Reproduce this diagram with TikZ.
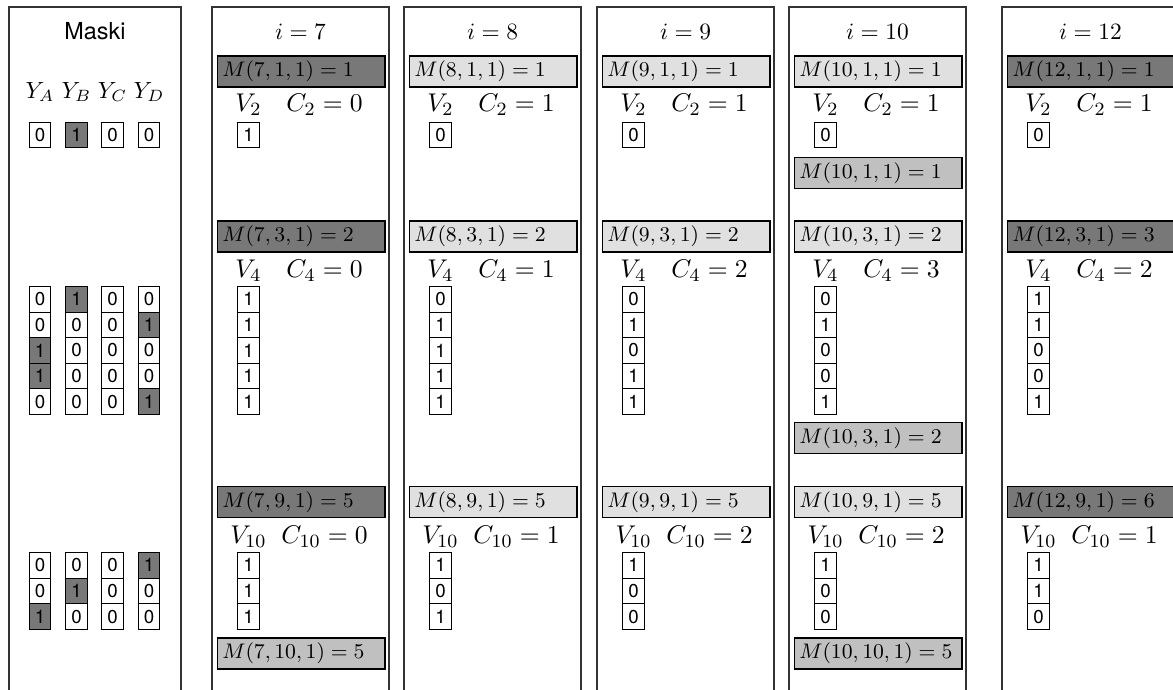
\documentclass[tikz,border=0pt]{standalone}
\usepackage{fontspec}
\setsansfont{TeX Gyre Heros}
\usetikzlibrary{positioning}
\definecolor{maskdark}{RGB}{120,120,120}
\definecolor{masklight}{RGB}{224,224,224}
\definecolor{maskmid}{RGB}{192,192,192}

\begin{document}
\begin{tikzpicture}[
			x=0.4273pt, y=-0.4273pt,
			panel/.style={draw=black!80, line width=0.6pt},
			head/.style={font=\normalsize},
			cell/.style={rectangle, draw, line width=0.5pt, minimum width=9.2pt, minimum height=10.94pt, inner sep=0pt, outer sep=0pt, font=\sffamily\footnotesize},
			hot/.style={cell, fill=maskdark},
			mbox/.style={rectangle, draw, line width=0.6pt, anchor=west, minimum height=13.2pt, text width=67.4pt, inner xsep=2pt, inner ysep=0pt, align=left, font=\small},
			mdark/.style={mbox, fill=maskdark},
			mlight/.style={mbox, fill=masklight},
			mmid/.style={mbox, fill=maskmid},
			vlab/.style={font=\fontsize{11}{13}\selectfont, inner sep=0pt}
			]
			
			\useasboundingbox (0,0) rectangle (1173,690);
			\clip (0,0) rectangle (1173,690);
			
			% Panels
			\draw[panel] (9,7) rectangle (181,700);
			\draw[panel] (212,7) rectangle (389,700);
			\draw[panel] (404,7) rectangle (581,700);
			\draw[panel] (597,7) rectangle (774,700);
			\draw[panel] (789,7) rectangle (966,700);
			\draw[panel] (1002,7) rectangle (1179,700);
			
			% Masks
			\node[head, font=\sffamily] (maski) at (95,31) {Maski};
			\node (ya) at (40,92) {$Y_A$};
			\node (yb) at (76.5,92) {$Y_B$};
			\node (yc) at (112.5,92) {$Y_C$};
			\node (yd) at (149,92) {$Y_D$};
			
			\node[cell] (mA0) at (40,135) {0};
			\node[hot] (mB0) at (76.5,135) {1};
			\node[cell] (mC0) at (112.5,135) {0};
			\node[cell] (mD0) at (149,135) {0};
			
			\node[cell] (mA1) at (40,299.3) {0};
			\node[cell] (mA2) at (40,324.9) {0};
			\node[hot] (mA3) at (40,350.5) {1};
			\node[hot] (mA4) at (40,376.1) {1};
			\node[cell] (mA5) at (40,401.7) {0};
			\node[hot] (mB1) at (76.5,299.3) {1};
			\node[cell] (mB2) at (76.5,324.9) {0};
			\node[cell] (mB3) at (76.5,350.5) {0};
			\node[cell] (mB4) at (76.5,376.1) {0};
			\node[cell] (mB5) at (76.5,401.7) {0};
			\node[cell] (mC1) at (112.5,299.3) {0};
			\node[cell] (mC2) at (112.5,324.9) {0};
			\node[cell] (mC3) at (112.5,350.5) {0};
			\node[cell] (mC4) at (112.5,376.1) {0};
			\node[cell] (mC5) at (112.5,401.7) {0};
			\node[cell] (mD1) at (149,299.3) {0};
			\node[hot] (mD2) at (149,324.9) {1};
			\node[cell] (mD3) at (149,350.5) {0};
			\node[cell] (mD4) at (149,376.1) {0};
			\node[hot] (mD5) at (149,401.7) {1};
			
			\node[cell] (mA6) at (40,565.3) {0};
			\node[cell] (mA7) at (40,590.9) {0};
			\node[hot] (mA8) at (40,616.5) {1};
			\node[cell] (mB6) at (76.5,565.3) {0};
			\node[hot] (mB7) at (76.5,590.9) {1};
			\node[cell] (mB8) at (76.5,616.5) {0};
			\node[cell] (mC6) at (112.5,565.3) {0};
			\node[cell] (mC7) at (112.5,590.9) {0};
			\node[cell] (mC8) at (112.5,616.5) {0};
			\node[hot] (mD6) at (149,565.3) {1};
			\node[cell] (mD7) at (149,590.9) {0};
			\node[cell] (mD8) at (149,616.5) {0};
			
			% i = 7
			\node[head] (t7) at (300.5,32) {$i=7$};
			\node[mdark] (m7a) at (217,71.5) {$M(7,1,1)=1$};
			\node[vlab] (v7a) at (248.5,105) {$V_2$};
			\node[vlab] (c7a) at (324.5,105) {$C_2=0$};
			\node[cell] (p7-0) at (248.5,135) {1};
			\node[mdark] (m7b) at (217,236.5) {$M(7,3,1)=2$};
			\node[vlab] (v7b) at (248.5,271) {$V_4$};
			\node[vlab] (c7b) at (324.5,271) {$C_4=0$};
			\node[cell] (p7-1) at (248.5,299.3) {1};
			\node[cell] (p7-2) at (248.5,324.9) {1};
			\node[cell] (p7-3) at (248.5,350.5) {1};
			\node[cell] (p7-4) at (248.5,376.1) {1};
			\node[cell] (p7-5) at (248.5,401.7) {1};
			\node[mdark] (m7c) at (217,502) {$M(7,9,1)=5$};
			\node[vlab] (v7c) at (248.5,537) {$V_{10}$};
			\node[vlab] (c7c) at (324.5,537) {$C_{10}=0$};
			\node[cell] (p7-6) at (248.5,565.3) {1};
			\node[cell] (p7-7) at (248.5,590.9) {1};
			\node[cell] (p7-8) at (248.5,616.5) {1};
			\node[mmid] (m7d) at (217,653.5) {$M(7,10,1)=5$};
			
			% i = 8
			\node[head] (t8) at (492.5,32) {$i=8$};
			\node[mlight] (m8a) at (409,71.5) {$M(8,1,1)=1$};
			\node[vlab] (v8a) at (440.5,105) {$V_2$};
			\node[vlab] (c8a) at (516.5,105) {$C_2=1$};
			\node[cell] (p8-0) at (440.5,135) {0};
			\node[mlight] (m8b) at (409,236.5) {$M(8,3,1)=2$};
			\node[vlab] (v8b) at (440.5,271) {$V_4$};
			\node[vlab] (c8b) at (516.5,271) {$C_4=1$};
			\node[cell] (p8-1) at (440.5,299.3) {0};
			\node[cell] (p8-2) at (440.5,324.9) {1};
			\node[cell] (p8-3) at (440.5,350.5) {1};
			\node[cell] (p8-4) at (440.5,376.1) {1};
			\node[cell] (p8-5) at (440.5,401.7) {1};
			\node[mlight] (m8c) at (409,502) {$M(8,9,1)=5$};
			\node[vlab] (v8c) at (440.5,537) {$V_{10}$};
			\node[vlab] (c8c) at (516.5,537) {$C_{10}=1$};
			\node[cell] (p8-6) at (440.5,565.3) {1};
			\node[cell] (p8-7) at (440.5,590.9) {0};
			\node[cell] (p8-8) at (440.5,616.5) {1};
			
			% i = 9
			\node[head] (t9) at (685.5,32) {$i=9$};
			\node[mlight] (m9a) at (602,71.5) {$M(9,1,1)=1$};
			\node[vlab] (v9a) at (633.5,105) {$V_2$};
			\node[vlab] (c9a) at (709.5,105) {$C_2=1$};
			\node[cell] (p9-0) at (633.5,135) {0};
			\node[mlight] (m9b) at (602,236.5) {$M(9,3,1)=2$};
			\node[vlab] (v9b) at (633.5,271) {$V_4$};
			\node[vlab] (c9b) at (709.5,271) {$C_4=2$};
			\node[cell] (p9-1) at (633.5,299.3) {0};
			\node[cell] (p9-2) at (633.5,324.9) {1};
			\node[cell] (p9-3) at (633.5,350.5) {0};
			\node[cell] (p9-4) at (633.5,376.1) {1};
			\node[cell] (p9-5) at (633.5,401.7) {1};
			\node[mlight] (m9c) at (602,502) {$M(9,9,1)=5$};
			\node[vlab] (v9c) at (633.5,537) {$V_{10}$};
			\node[vlab] (c9c) at (709.5,537) {$C_{10}=2$};
			\node[cell] (p9-6) at (633.5,565.3) {1};
			\node[cell] (p9-7) at (633.5,590.9) {0};
			\node[cell] (p9-8) at (633.5,616.5) {0};
			
			% i = 10
			\node[head] (t10) at (877.5,32) {$i=10$};
			\node[mlight] (m10a) at (794,71.5) {$M(10,1,1)=1$};
			\node[vlab] (v10a) at (825.5,105) {$V_2$};
			\node[vlab] (c10a) at (901.5,105) {$C_2=1$};
			\node[cell] (p10-0) at (825.5,135) {0};
			\node[mmid] (m10d) at (794,173) {$M(10,1,1)=1$};
			\node[mlight] (m10b) at (794,236.5) {$M(10,3,1)=2$};
			\node[vlab] (v10b) at (825.5,271) {$V_4$};
			\node[vlab] (c10b) at (901.5,271) {$C_4=3$};
			\node[cell] (p10-1) at (825.5,299.3) {0};
			\node[cell] (p10-2) at (825.5,324.9) {1};
			\node[cell] (p10-3) at (825.5,350.5) {0};
			\node[cell] (p10-4) at (825.5,376.1) {0};
			\node[cell] (p10-5) at (825.5,401.7) {1};
			\node[mmid] (m10e) at (794,438) {$M(10,3,1)=2$};
			\node[mlight] (m10c) at (794,502) {$M(10,9,1)=5$};
			\node[vlab] (v10c) at (825.5,537) {$V_{10}$};
			\node[vlab] (c10c) at (901.5,537) {$C_{10}=2$};
			\node[cell] (p10-6) at (825.5,565.3) {1};
			\node[cell] (p10-7) at (825.5,590.9) {0};
			\node[cell] (p10-8) at (825.5,616.5) {0};
			\node[mmid] (m10f) at (794,653.5) {$M(10,10,1)=5$};
			
			% i = 12
			\node[head] (t12) at (1090.5,32) {$i=12$};
			\node[mdark] (m12a) at (1007,71.5) {$M(12,1,1)=1$};
			\node[vlab] (v12a) at (1038.5,105) {$V_2$};
			\node[vlab] (c12a) at (1114.5,105) {$C_2=1$};
			\node[cell] (p12-0) at (1038.5,135) {0};
			\node[mdark] (m12b) at (1007,236.5) {$M(12,3,1)=3$};
			\node[vlab] (v12b) at (1038.5,271) {$V_4$};
			\node[vlab] (c12b) at (1114.5,271) {$C_4=2$};
			\node[cell] (p12-1) at (1038.5,299.3) {1};
			\node[cell] (p12-2) at (1038.5,324.9) {1};
			\node[cell] (p12-3) at (1038.5,350.5) {0};
			\node[cell] (p12-4) at (1038.5,376.1) {0};
			\node[cell] (p12-5) at (1038.5,401.7) {1};
			\node[mdark] (m12c) at (1007,502) {$M(12,9,1)=6$};
			\node[vlab] (v12c) at (1038.5,537) {$V_{10}$};
			\node[vlab] (c12c) at (1114.5,537) {$C_{10}=1$};
			\node[cell] (p12-6) at (1038.5,565.3) {1};
			\node[cell] (p12-7) at (1038.5,590.9) {1};
			\node[cell] (p12-8) at (1038.5,616.5) {0};
			
		\end{tikzpicture}
\end{document}
